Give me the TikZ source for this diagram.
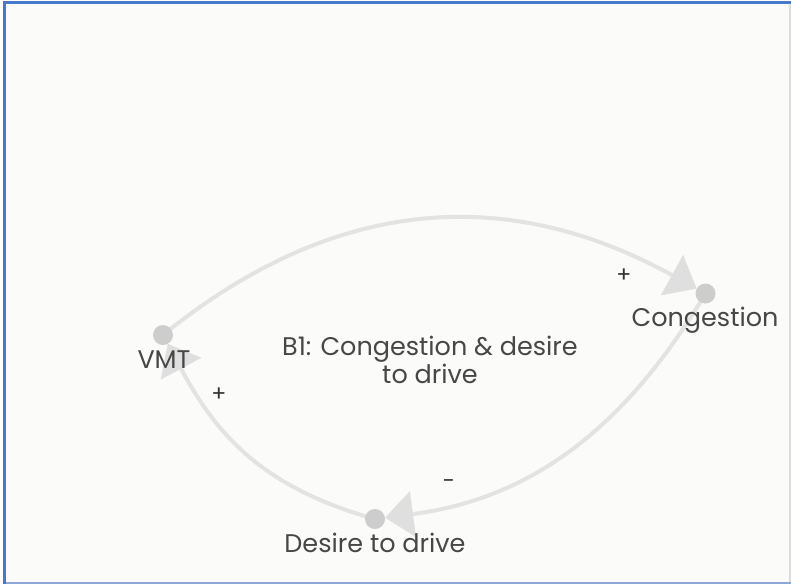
\documentclass[tikz,border=0pt]{standalone}
\usepackage{fontspec}
\setmainfont{Poppins}
\usetikzlibrary{arrows.meta}

\definecolor{pagebg}{HTML}{FBFBF9}
\definecolor{frameblue}{HTML}{4A78C8}
\definecolor{framelight}{HTML}{8EA8D8}
\definecolor{frameside}{HTML}{DCDCDC}
\definecolor{linkgray}{HTML}{E3E3E3}
\definecolor{tipgray}{HTML}{DFDFDF}
\definecolor{dotgray}{HTML}{CDCDCD}
\definecolor{labelgray}{HTML}{474747}
\definecolor{signgray}{HTML}{333333}

\pgfdeclarelayer{back}
\pgfdeclarelayer{links}
\pgfsetlayers{back,links,main}

\tikzset{
  varpoint/.style={circle, inner sep=0pt, minimum size=20pt},
  varname/.style={anchor=base, text=labelgray, inner sep=0pt,
                  font=\fontsize{25.5}{28}\selectfont},
  looptitle/.style={anchor=base, text=labelgray, inner sep=0pt, align=center,
                    font=\fontsize{25.5}{28}\selectfont},
  polarity/.style={anchor=base, text=signgray, inner sep=0pt,
                   font=\fontsize{22}{24}\selectfont},
  link/.style={draw=linkgray, line width=4pt,
               -{Triangle[length=28pt, width=46pt, line width=0.5pt, color=tipgray]}},
}

\begin{document}
\begin{tikzpicture}[x=1pt, y=-1pt]
  \useasboundingbox (0,0) rectangle (791,584);

  % canvas and frame
  \begin{pgfonlayer}{back}
    \fill[white] (0,0) rectangle (791,584);
    \fill[pagebg] (4,2) rectangle (790,583);
    \draw[frameside, line width=2pt] (790,2) -- (790,583);
    \draw[framelight, line width=2pt] (4,583) -- (791,583);
    \draw[frameblue, line width=3pt] (4,584) -- (4,2) -- (791,2);
  \end{pgfonlayer}

  % variables
  \node[varpoint] (vmt)    at (163,335) {};
  \node[varpoint] (cong)   at (705.5,293.5) {};
  \node[varpoint] (desire) at (375,519) {};

  % causal links
  \begin{pgfonlayer}{links}
    \draw[link] (vmt.center) .. controls (316,211) and (488,174) .. (cong);
    \draw[link] (cong.center) .. controls (628,423) and (536,498) .. (desire);
    \draw[link] (desire.center) .. controls (260,487) and (215,432) .. (vmt);
  \end{pgfonlayer}

  % variable markers
  \fill[dotgray] (vmt.center) circle (10);
  \fill[dotgray] (cong.center) circle (10);
  \fill[dotgray] (desire.center) circle (10);

  % variable names
  \node[varname] (vmtname)    at (164,368) {VMT};
  \node[varname] (congname)   at (705,326) {Congestion};
  \node[varname] (desirename) at (375,552) {Desire to drive};

  % loop name (base anchor sits on the last line)
  \node[looptitle] (loop) at (430,383) {B1: Congestion \& desire\\to drive};

  % link polarities
  \node[polarity] (p1) at (624,282) {+};
  \node[polarity] (p2) at (449,488) {-};
  \node[polarity] (p3) at (219,401) {+};
\end{tikzpicture}
\end{document}
